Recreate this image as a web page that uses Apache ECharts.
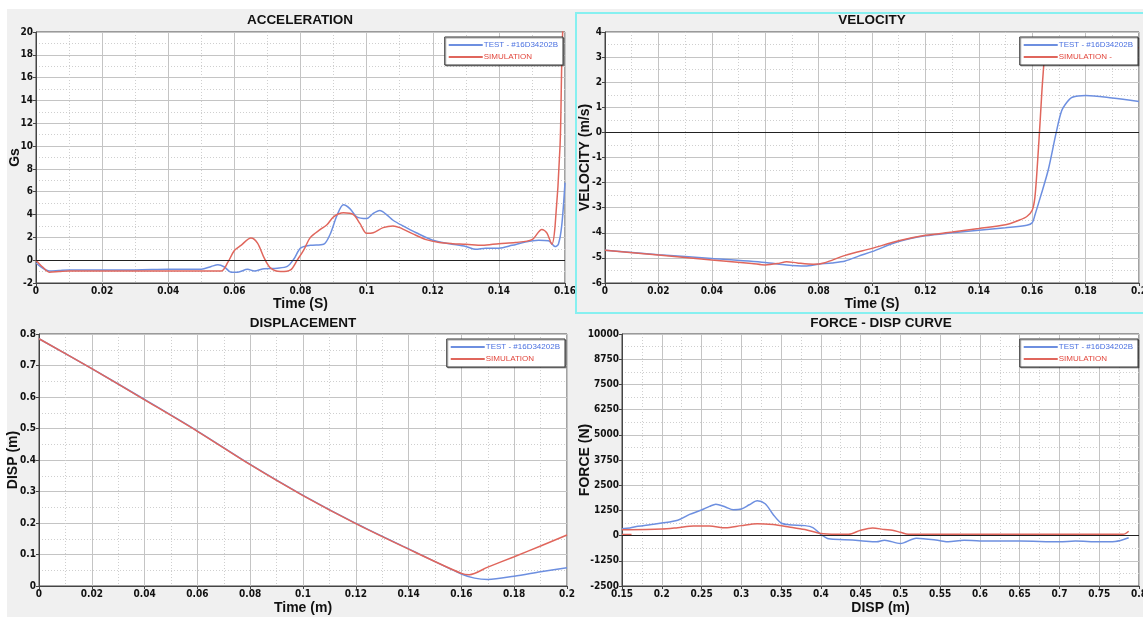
<!DOCTYPE html>
<html>
<head>
<meta charset="utf-8">
<title>Test vs Simulation</title>
<script src="https://cdn.jsdelivr.net/npm/echarts@6/dist/echarts.min.js"></script>
<style>
  html, body { margin: 0; padding: 0; background: #fff; overflow: hidden; }
  #panelBg { position: absolute; left: 7px; top: 9px; width: 1136px; height: 608px; background: #f0f0f0; }
  #selected { position: absolute; left: 575px; top: 12px; width: 580px; height: 298px; border: 2px solid #86f0f0; pointer-events: none; }
  #main { position: absolute; left: 0; top: 0; width: 1143px; height: 617px; }
</style>
</head>
<body>
<div id="panelBg"></div>
<div id="main"></div>
<div id="selected"></div>
<script>
// ---- data ----
const testName = 'TEST - #16D34202B';

// acceleration (Gs) vs time (s)
const accTestT = [0, 0.002, 0.004, 0.007, 0.01, 0.02, 0.03, 0.04, 0.045, 0.05, 0.053, 0.055, 0.057, 0.059, 0.061, 0.064, 0.066, 0.069, 0.073, 0.076, 0.078, 0.08, 0.083, 0.087, 0.089, 0.091, 0.093, 0.095, 0.097, 0.1, 0.102, 0.104, 0.106, 0.108, 0.111, 0.115, 0.12, 0.125, 0.13, 0.133, 0.136, 0.14, 0.144, 0.148, 0.152, 0.155, 0.157, 0.158, 0.159, 0.16];
const accTestG = [-0.25, -0.7, -0.95, -0.9, -0.85, -0.85, -0.85, -0.8, -0.8, -0.8, -0.55, -0.4, -0.6, -1.05, -1.05, -0.8, -0.95, -0.75, -0.7, -0.55, 0.1, 1.05, 1.3, 1.4, 2.3, 3.9, 4.85, 4.5, 3.8, 3.65, 4.1, 4.35, 4.0, 3.5, 3.0, 2.4, 1.75, 1.45, 1.2, 0.95, 1.05, 1.05, 1.3, 1.6, 1.75, 1.7, 1.2, 1.4, 3.0, 6.8];
const accSimT = [0, 0.002, 0.004, 0.007, 0.01, 0.02, 0.03, 0.04, 0.05, 0.056, 0.058, 0.06, 0.062, 0.065, 0.067, 0.069, 0.071, 0.074, 0.077, 0.079, 0.081, 0.083, 0.086, 0.088, 0.09, 0.093, 0.096, 0.098, 0.1, 0.102, 0.105, 0.108, 0.11, 0.114, 0.118, 0.122, 0.126, 0.13, 0.135, 0.14, 0.145, 0.15, 0.153, 0.1545, 0.156, 0.157, 0.1585, 0.159, 0.1595];
const accSimG = [0, -0.6, -1.05, -1.0, -0.95, -0.95, -0.95, -0.95, -0.95, -0.95, -0.2, 0.85, 1.3, 1.95, 1.5, 0.2, -0.7, -1.0, -0.85, 0.0, 0.9, 2.0, 2.7, 3.1, 3.8, 4.15, 4.0, 3.2, 2.35, 2.4, 2.85, 3.0, 2.85, 2.3, 1.8, 1.55, 1.45, 1.4, 1.3, 1.45, 1.55, 1.8, 2.7, 2.4, 1.4, 3.0, 10, 17, 22];

// velocity (m/s) vs time (s)
const velTestT = [0, 0.02, 0.04, 0.06, 0.068, 0.075, 0.08, 0.085, 0.09, 0.095, 0.1, 0.11, 0.12, 0.13, 0.14, 0.15, 0.158, 0.16, 0.161, 0.163, 0.166, 0.169, 0.171, 0.173, 0.175, 0.18, 0.19, 0.2];
const velTestV = [-4.7, -4.87, -5.02, -5.18, -5.28, -5.32, -5.25, -5.2, -5.12, -4.93, -4.75, -4.35, -4.12, -4.0, -3.9, -3.8, -3.7, -3.6, -3.3, -2.6, -1.5, 0, 0.85, 1.2, 1.4, 1.47, 1.37, 1.23];
const velSimT = [0, 0.02, 0.04, 0.055, 0.06, 0.065, 0.068, 0.072, 0.078, 0.082, 0.09, 0.1, 0.11, 0.12, 0.13, 0.14, 0.15, 0.155, 0.158, 0.16, 0.161, 0.162, 0.163, 0.164, 0.165, 0.167, 0.18, 0.2];
const velSimV = [-4.7, -4.88, -5.08, -5.22, -5.28, -5.22, -5.15, -5.2, -5.25, -5.2, -4.9, -4.62, -4.32, -4.1, -3.97, -3.83, -3.68, -3.5, -3.35, -3.1, -2.6, -1.2, 0.5, 2.2, 3.2, 3.5, 3.45, 3.37];

// displacement (m) vs time
const dispTestT = [0, 0.02, 0.04, 0.06, 0.08, 0.1, 0.12, 0.14, 0.16, 0.165, 0.17, 0.18, 0.19, 0.2];
const dispTestD = [0.785, 0.69, 0.592, 0.492, 0.386, 0.288, 0.199, 0.118, 0.038, 0.025, 0.021, 0.031, 0.045, 0.058];
const dispSimT = [0, 0.02, 0.04, 0.06, 0.08, 0.1, 0.12, 0.14, 0.16, 0.163, 0.17, 0.18, 0.19, 0.2];
const dispSimD = [0.785, 0.69, 0.591, 0.491, 0.385, 0.287, 0.198, 0.117, 0.04, 0.036, 0.06, 0.093, 0.127, 0.162];

// force (N) vs displacement (m)
const forceTestD = [0.15, 0.16, 0.17, 0.185, 0.2, 0.22, 0.235, 0.25, 0.26, 0.268, 0.28, 0.29, 0.3, 0.31, 0.32, 0.33, 0.34, 0.35, 0.36, 0.38, 0.39, 0.4, 0.41, 0.43, 0.45, 0.47, 0.48, 0.5, 0.52, 0.55, 0.56, 0.58, 0.6, 0.65, 0.7, 0.72, 0.75, 0.77, 0.787];
const forceTestF = [345, 380, 460, 540, 620, 760, 1050, 1270, 1450, 1560, 1420, 1285, 1320, 1530, 1730, 1580, 1050, 625, 540, 495, 400, 60, -160, -200, -250, -310, -230, -390, -130, -250, -310, -230, -265, -265, -310, -265, -310, -295, -110];
const forceSimD = [0.15, 0.2, 0.22, 0.24, 0.26, 0.28, 0.3, 0.32, 0.34, 0.36, 0.38, 0.4, 0.42, 0.435, 0.45, 0.465, 0.48, 0.49, 0.5, 0.51, 0.78, 0.787];
const forceSimF = [295, 330, 395, 475, 475, 385, 495, 590, 545, 430, 300, 100, 65, 65, 265, 380, 300, 265, 165, 65, 65, 215];
const forceSimTailD = [0.15, 0.162];
const forceSimTailF = [50, 50];

// ---- chart ----
const blue = '#6d8fe0';
const red = '#e0665c';
const tickFont = "'Liberation Sans Narrow', 'DejaVu Sans Condensed', Arial, sans-serif";
const boldFont = "'Liberation Sans', Arial, sans-serif";

function pairs(xs, ys) {
    return xs.map((x, i) => [x, ys[i]]);
}

function grid(left, top, width, height) {
    return {
        left: left, top: top, width: width, height: height,
        show: true, backgroundColor: '#fff', borderColor: '#444', borderWidth: 1,
        outerBoundsMode: 'none'
    };
}

function axis(idx, min, max, interval, name, nameGap, isY) {
    return {
        type: 'value', gridIndex: idx, min: min, max: max, interval: interval,
        name: name, nameLocation: 'middle', nameGap: nameGap,
        nameMoveOverlap: isY ? false : true,
        nameTextStyle: { fontFamily: boldFont, fontWeight: 'bold', fontSize: 14, color: '#111' },
        axisLine: { show: true, onZero: false, lineStyle: { color: '#444' } },
        axisTick: { show: true, length: 3, lineStyle: { color: '#444' } },
        axisLabel: {
            fontFamily: tickFont, fontWeight: 'bold', fontSize: 10, color: '#111', margin: 3,
            formatter: (v) => String(v)
        },
        splitLine: { show: true, lineStyle: { color: '#c4c4c4', width: 1 } },
        minorTick: { show: false, splitNumber: 2 },
        minorSplitLine: { show: true, lineStyle: { color: '#cfcfcf', type: [1, 2], width: 1 } }
    };
}

function line(name, idx, data, color, zero) {
    const s = {
        name: name, type: 'line', xAxisIndex: idx, yAxisIndex: idx,
        data: data, symbol: 'none', smooth: 0.3,
        lineStyle: { color: color, width: 1.5 }, itemStyle: { color: color }
    };
    if (zero) {
        s.markLine = {
            silent: true, symbol: 'none', label: { show: false }, animation: false,
            lineStyle: { color: '#222', width: 1, type: 'solid' },
            data: [{ yAxis: 0 }]
        };
    }
    return s;
}

function legend(right, top, simName) {
    return {
        orient: 'vertical', right: right, top: top, icon: 'rect',
        backgroundColor: '#fff', borderColor: '#333', borderWidth: 1,
        shadowColor: 'rgba(0,0,0,0.35)', shadowOffsetX: 1, shadowOffsetY: 1, shadowBlur: 0,
        padding: [4, 5, 4, 4], itemGap: 4, itemWidth: 34, itemHeight: 2,
        textStyle: { fontFamily: "'Liberation Sans', Arial, sans-serif", fontSize: 8, padding: [0, 0, 0, -4] },
        data: [
            { name: testName, textStyle: { color: '#4a70e0' } },
            { name: simName, textStyle: { color: '#e2463c' } }
        ]
    };
}

function title(text, x, top) {
    return {
        text: text, left: x, top: top, textAlign: 'center', padding: 0,
        textStyle: { fontFamily: boldFont, fontWeight: 'bold', fontSize: 13.5, color: '#111' }
    };
}

const myChart = echarts.init(document.getElementById('main'));
const option = {
    animation: false,
    title: [
        title('ACCELERATION', 300, 13),
        title('VELOCITY', 872, 13),
        title('DISPLACEMENT', 303, 316),
        title('FORCE - DISP CURVE', 881, 316)
    ],
    legend: [
        legend(580, 37, 'SIMULATION'),
        legend(5, 37, 'SIMULATION -'),
        legend(578, 339, 'SIMULATION'),
        legend(5, 339, 'SIMULATION')
    ],
    grid: [
        grid(36, 32, 529, 251),
        grid(605, 32, 534, 251),
        grid(39, 334, 528, 252),
        grid(622, 334, 517, 252)
    ],
    xAxis: [
        axis(0, 0, 0.16, 0.02, 'Time (S)', 12),
        axis(1, 0, 0.2, 0.02, 'Time (S)', 12),
        axis(2, 0, 0.2, 0.02, 'Time (m)', 15),
        axis(3, 0.15, 0.8, 0.05, 'DISP (m)', 15)
    ],
    yAxis: [
        axis(0, -2, 20, 2, 'Gs', 14, true),
        axis(1, -6, 4, 1, 'VELOCITY (m/s)', 13, true),
        axis(2, 0, 0.8, 0.1, 'DISP (m)', 19, true),
        axis(3, -2500, 10000, 1250, 'FORCE (N)', 30, true)
    ],
    series: [
        line(testName, 0, pairs(accTestT, accTestG), blue, true),
        line('SIMULATION', 0, pairs(accSimT, accSimG), red),
        line(testName, 1, pairs(velTestT, velTestV), blue, true),
        line('SIMULATION -', 1, pairs(velSimT, velSimV), red),
        line(testName, 2, pairs(dispTestT, dispTestD), blue),
        line('SIMULATION', 2, pairs(dispSimT, dispSimD), red),
        line(testName, 3, pairs(forceTestD, forceTestF), blue, true),
        line('SIMULATION', 3, pairs(forceSimD, forceSimF), red),
        line('SIMULATION', 3, pairs(forceSimTailD, forceSimTailF), red)
    ]
};
myChart.setOption(option);
</script>
</body>
</html>
